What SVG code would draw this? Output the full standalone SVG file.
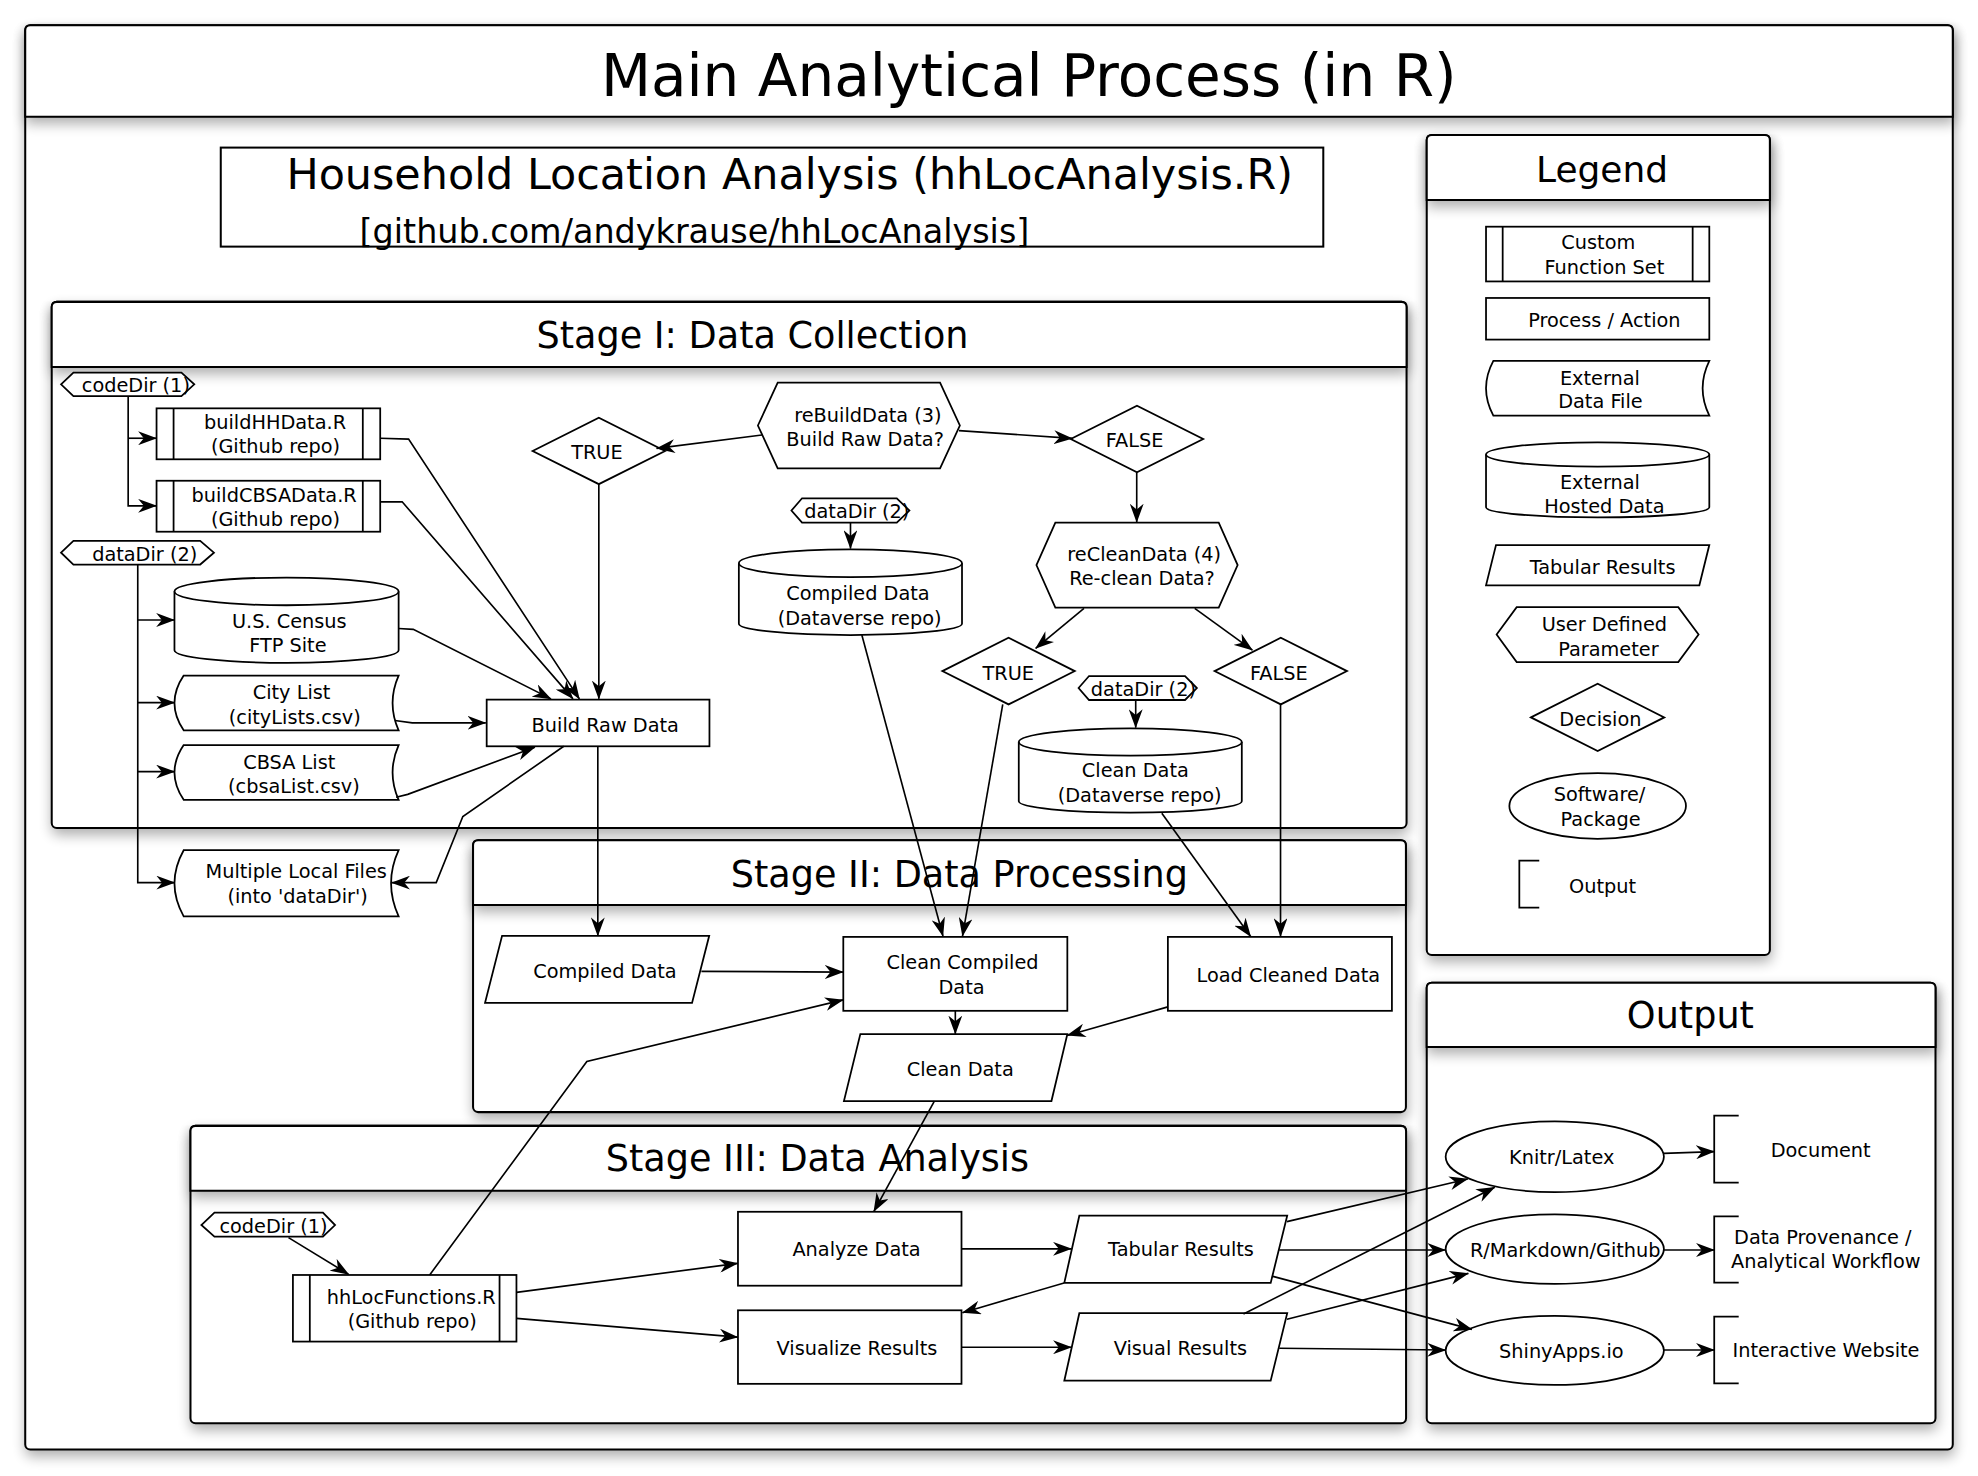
<svg xmlns="http://www.w3.org/2000/svg" width="1978" height="1476" viewBox="0 0 1978 1476">
<defs>
<style>
.s{fill:#fff;stroke:#000;stroke-width:1.4}
.p{fill:#fff;stroke:#000;stroke-width:1.6}
.n{fill:none;stroke:#000;stroke-width:1.4}
.t{font-family:"DejaVu Sans","Liberation Sans",sans-serif;font-size:15.3px;text-anchor:middle;fill:#000}
.h{font-size:29px}
.c{fill:none;stroke:#000;stroke-width:1.3}
.a{marker-end:url(#ah)}
</style>
<marker id="ah" viewBox="0 0 15 11" refX="14.5" refY="5.5" markerWidth="15" markerHeight="11" orient="auto" markerUnits="userSpaceOnUse"><path d="M0,0 L15,5.5 L0,11 L4.5,5.5 Z" fill="#000"/></marker>
<filter id="sh" x="-5%" y="-10%" width="112%" height="160%"><feGaussianBlur in="SourceAlpha" stdDeviation="5"/><feOffset dx="1" dy="5"/><feComponentTransfer><feFuncA type="linear" slope="0.32"/></feComponentTransfer><feMerge><feMergeNode/><feMergeNode in="SourceGraphic"/></feMerge></filter>
</defs>
<rect width="1978" height="1476" fill="#fff"/>
<g transform="scale(1.26148)">
<g id="main-frame">
<rect x="20" y="20" width="1528" height="1129" rx="4" class="p" filter="url(#sh)"/>
<path d="M20,92.5 V24 Q20,20 24,20 H1544 Q1548,20 1548,24 V92.5 Z" class="p" filter="url(#sh)"/>
<text x="815.5" y="75.8" class="t" style="font-size:46px">Main Analytical Process (in R)</text>
</g>
<g id="household">
<rect x="175" y="117" width="874" height="78.5" class="p"/>
<text x="626" y="150" class="t" style="font-size:34px">Household Location Analysis (hhLocAnalysis.R)</text>
<text x="550.5" y="192.3" class="t" style="font-size:26.5px">[github.com/andykrause/hhLocAnalysis]</text>
</g>
<g id="legend-panel">
<rect x="1131" y="107" width="272" height="650" rx="4" class="p" filter="url(#sh)"/>
<path d="M1131,158.5 V111 Q1131,107 1135,107 H1399 Q1403,107 1403,111 V158.5 Z" class="p" filter="url(#sh)"/>
<text x="1270" y="144" class="t" style="font-size:28.5px">Legend</text>
</g>
<g id="output-panel">
<rect x="1131" y="779" width="403.3" height="349.3" rx="4" class="p" filter="url(#sh)"/>
<path d="M1131,830 V783 Q1131,779 1135,779 H1530.3 Q1534.3,779 1534.3,783 V830 Z" class="p" filter="url(#sh)"/>
<text x="1340" y="815" class="t h">Output</text>
</g>
<g id="stage1-panel">
<rect x="41" y="239.3" width="1074" height="417.1" rx="4" class="p" filter="url(#sh)"/>
<path d="M41,291 V243.3 Q41,239.3 45,239.3 H1111 Q1115,239.3 1115,243.3 V291 Z" class="p" filter="url(#sh)"/>
<text x="596.5" y="276" class="t h">Stage I: Data Collection</text>
</g>
<g id="stage2-panel">
<rect x="375" y="666" width="739.5" height="215.6" rx="4" class="p" filter="url(#sh)"/>
<path d="M375,717.5 V670 Q375,666 379,666 H1110.5 Q1114.5,666 1114.5,670 V717.5 Z" class="p" filter="url(#sh)"/>
<text x="760.5" y="703.5" class="t h">Stage II: Data Processing</text>
</g>
<g id="stage3-panel">
<rect x="151" y="892.5" width="963.6" height="235.8" rx="4" class="p" filter="url(#sh)"/>
<path d="M151,944 V896.5 Q151,892.5 155,892.5 H1110.6 Q1114.6,892.5 1114.6,896.5 V944 Z" class="p" filter="url(#sh)"/>
<text x="648" y="928.3" class="t h">Stage III: Data Analysis</text>
</g>

<g id="legend-items">
<g id="lg-custom"><rect x="1178" y="179.7" width="177" height="43.4" class="s"/><path d="M1191.2,179.7 V223.1 M1341.8,179.7 V223.1" class="n"/><text x="1267" y="197.7" class="t">Custom</text><text x="1271.8" y="217" class="t">Function Set</text></g>
<g id="lg-process"><rect x="1178" y="236.2" width="177" height="33" class="s"/><text x="1271.8" y="259.2" class="t">Process / Action</text></g>
<g id="lg-extfile"><path d="M1183.8,286.1 H1355 Q1344.4,307.8 1355,329.5 H1183.8 Q1172.2,307.8 1183.8,286.1 Z" class="s"/><text x="1268.3" y="305.3" class="t">External</text><text x="1268.7" y="323.7" class="t">Data File</text></g>
<g id="lg-hosted"><path d="M1178,360.3 A88.5,9.6 0 0 1 1355,360.3 V402.2 A88.5,8 0 0 1 1178,402.2 Z" class="s"/><path d="M1178,360.3 A88.5,9.6 0 0 0 1355,360.3" class="n"/><text x="1268.3" y="388" class="t">External</text><text x="1271.8" y="406.4" class="t">Hosted Data</text></g>
<g id="lg-tabular"><polygon points="1185.9,432.1 1355,432.1 1347.1,464 1178,464" class="s"/><text x="1270.4" y="455.2" class="t">Tabular Results</text></g>
<g id="lg-param"><polygon points="1186.4,503 1202.3,481.3 1330.4,481.3 1346.5,503 1330.4,524.8 1202.3,524.8" class="s"/><text x="1271.8" y="500.5" class="t">User Defined</text><text x="1275" y="519.7" class="t">Parameter</text></g>
<g id="lg-decision"><polygon points="1213.6,568.7 1266.5,542 1319.3,568.7 1266.5,595.4" class="s"/><text x="1268.7" y="575.5" class="t">Decision</text></g>
<g id="lg-software"><ellipse cx="1266.5" cy="638.9" rx="70" ry="26" class="s"/><text x="1268" y="635" class="t">Software/</text><text x="1268.8" y="655" class="t">Package</text></g>
<g id="lg-output"><path d="M1220.2,682.3 H1204.4 V719.5 H1220.2" class="n"/><text x="1270.4" y="708" class="t">Output</text></g>
</g>

<g id="codeDir1"><polygon points="48.4,304.7 58.2,295.4 143.8,295.4 154,304.7 143.8,314 58.2,314" class="s"/><text x="107.7" y="310.4" class="t">codeDir (1)</text></g>
<g id="buildHHData"><rect x="124.1" y="323.7" width="177.3" height="40.4" class="s"/><path d="M137.6,323.7 V364.1 M287.6,323.7 V364.1" class="n"/><text x="218" y="340.4" class="t">buildHHData.R</text><text x="218.4" y="359.4" class="t">(Github repo)</text></g>
<g id="buildCBSAData"><rect x="124.1" y="381.1" width="177.3" height="40.4" class="s"/><path d="M137.6,381.1 V421.5 M287.6,381.1 V421.5" class="n"/><text x="217.3" y="398.1" class="t">buildCBSAData.R</text><text x="218.4" y="417.1" class="t">(Github repo)</text></g>
<g id="dataDir2a"><polygon points="48.4,438.1 58.2,428.8 158.7,428.8 169.6,438.1 158.7,447.5 58.2,447.5" class="s"/><text x="114.7" y="444.8" class="t">dataDir (2)</text></g>
<g id="census"><path d="M138.3,468.8 A88.85,11 0 0 1 316,468.8 V515.5 A88.85,10 0 0 1 138.3,515.5 Z" class="s"/><path d="M138.3,468.8 A88.85,11 0 0 0 316,468.8" class="n"/><text x="229.3" y="497.9" class="t">U.S. Census</text><text x="228.2" y="517.2" class="t">FTP Site</text></g>
<g id="citylist"><path d="M145.6,535.5 H316 Q306.4,557.2 316,578.9 H145.6 Q131,557.2 145.6,535.5 Z" class="s"/><text x="231.1" y="553.9" class="t">City List</text><text x="233.7" y="573.9" class="t">(cityLists.csv)</text></g>
<g id="cbsalist"><path d="M145.6,590.6 H316 Q306.4,612.3 316,634 H145.6 Q131,612.3 145.6,590.6 Z" class="s"/><text x="229.3" y="609.6" class="t">CBSA List</text><text x="233" y="629" class="t">(cbsaList.csv)</text></g>
<g id="localfiles"><path d="M145.6,674 H316 Q304,700.2 316,726.4 H145.6 Q131,700.2 145.6,674 Z" class="s"/><text x="234.8" y="695.7" class="t">Multiple Local Files</text><text x="235.9" y="715.7" class="t">(into 'dataDir')</text></g>
<g id="buildraw"><rect x="385.8" y="554.6" width="176.6" height="37" class="s"/><text x="479.8" y="579.9" class="t">Build Raw Data</text></g>
<g id="true1"><polygon points="422.2,357.5 474.7,331.2 527.2,357.5 474.7,383.8" class="s"/><text x="473.2" y="363.8" class="t">TRUE</text></g>
<g id="rebuild"><polygon points="600.8,337.3 616.5,303.3 745.2,303.3 760.9,337.3 745.2,371.3 616.5,371.3" class="s"/><text x="688" y="334.2" class="t">reBuildData (3)</text><text x="685.8" y="353.5" class="t">Build Raw Data?</text></g>
<g id="false1"><polygon points="848.8,348 901.3,321.7 953.8,348 901.3,374.3" class="s"/><text x="899.4" y="354.6" class="t">FALSE</text></g>
<g id="dataDir2b"><polygon points="627.4,404.7 635.8,395 710.9,395 720.9,404.7 710.9,414.3 635.8,414.3" class="s"/><text x="679.2" y="410.9" class="t">dataDir (2)</text></g>
<g id="compiledrepo"><path d="M585.7,446.5 A88.45,11 0 0 1 762.6,446.5 V494.4 A88.45,9 0 0 1 585.7,494.4 Z" class="s"/><path d="M585.7,446.5 A88.45,11 0 0 0 762.6,446.5" class="n"/><text x="680.1" y="475.6" class="t">Compiled Data</text><text x="681.4" y="495.5" class="t">(Dataverse repo)</text></g>
<g id="reclean"><polygon points="821.6,447.9 836.6,414.3 966.1,414.3 981.1,447.9 966.1,481.7 836.6,481.7" class="s"/><text x="907" y="444.5" class="t">reCleanData (4)</text><text x="905.3" y="463.7" class="t">Re-clean Data?</text></g>
<g id="true2"><polygon points="747,532 799.5,505.6 852,532 799.5,558.4" class="s"/><text x="799.3" y="539" class="t">TRUE</text></g>
<g id="false2"><polygon points="962.8,532 1015.3,505.6 1067.8,532 1015.3,558.4" class="s"/><text x="1013.8" y="539" class="t">FALSE</text></g>
<g id="dataDir2c"><polygon points="855,545.4 863.3,535.9 939.4,535.9 948.8,545.4 939.4,554.9 863.3,554.9" class="s"/><text x="906.4" y="551.7" class="t">dataDir (2)</text></g>
<g id="cleanrepo"><path d="M807.6,588.2 A88.4,10.8 0 0 1 984.4,588.2 V635.2 A88.4,9 0 0 1 807.6,635.2 Z" class="s"/><path d="M807.6,588.2 A88.4,10.8 0 0 0 984.4,588.2" class="n"/><text x="900" y="616.2" class="t">Clean Data</text><text x="903.4" y="635.5" class="t">(Dataverse repo)</text></g>

<g id="compileddata"><polygon points="398,741.8 562.2,741.8 548.6,795 384.5,795" class="s"/><text x="479.6" y="775.6" class="t">Compiled Data</text></g>
<g id="cleancompiled"><rect x="668.5" y="742.7" width="177.6" height="58.6" class="s"/><text x="763" y="768.4" class="t">Clean Compiled</text><text x="762.2" y="788.2" class="t">Data</text></g>
<g id="loadcleaned"><rect x="925.8" y="742.7" width="177.6" height="58.6" class="s"/><text x="1021.3" y="778.8" class="t">Load Cleaned Data</text></g>
<g id="cleandata"><polygon points="682,819.8 846.1,819.8 833.5,872.8 669,872.8" class="s"/><text x="761.2" y="853" class="t">Clean Data</text></g>

<g id="codeDir1b"><polygon points="159.6,971.1 170,961.3 256,961.3 265.6,971.1 256,980.3 170,980.3" class="s"/><text x="216.8" y="977.2" class="t">codeDir (1)</text></g>
<g id="hhlocfunctions"><rect x="232.2" y="1010.7" width="177.2" height="52.8" class="s"/><path d="M245.6,1010.7 V1063.5 M396,1010.7 V1063.5" class="n"/><text x="326" y="1034" class="t">hhLocFunctions.R</text><text x="326.8" y="1053" class="t">(Github repo)</text></g>
<g id="analyze"><rect x="585" y="960.6" width="177.2" height="58.6" class="s"/><text x="679" y="995.7" class="t">Analyze Data</text></g>
<g id="visualize"><rect x="585" y="1038.7" width="177.2" height="58.3" class="s"/><text x="679.3" y="1074" class="t">Visualize Results</text></g>
<g id="tabular"><polygon points="855.6,963.7 1020.4,963.7 1007.3,1017 843.7,1017" class="s"/><text x="936.2" y="995.7" class="t">Tabular Results</text></g>
<g id="visual"><polygon points="855.6,1041 1020.4,1041 1007.3,1094.5 843.7,1094.5" class="s"/><text x="935.7" y="1074" class="t">Visual Results</text></g>

<g id="knitr"><ellipse cx="1232.5" cy="917" rx="86.5" ry="28" class="s"/><text x="1238" y="923" class="t">Knitr/Latex</text></g>
<g id="rmarkdown"><ellipse cx="1232.5" cy="990.2" rx="86.5" ry="27.6" class="s"/><text x="1240.8" y="996.2" class="t">R/Markdown/Github</text></g>
<g id="shiny"><ellipse cx="1232.5" cy="1070.5" rx="86.5" ry="27.4" class="s"/><text x="1237.7" y="1076.2" class="t">ShinyApps.io</text></g>
<g id="out-document"><path d="M1378.3,884.4 H1358.9 V937.5 H1378.3" class="n"/><text x="1443.3" y="916.9" class="t">Document</text></g>
<g id="out-provenance"><path d="M1378.3,964.2 H1358.9 V1016.8 H1378.3" class="n"/><text x="1445" y="986.4" class="t">Data Provenance /</text><text x="1447.3" y="1005.4" class="t">Analytical Workflow</text></g>
<g id="out-website"><path d="M1378.3,1043.7 H1358.9 V1096.6 H1378.3" class="n"/><text x="1447.5" y="1075.4" class="t">Interactive Website</text></g>

<g id="connectors">
<path d="M101.6,314 V401 H124" class="c a"/>
<path d="M101.6,347.4 H124" class="c a"/>
<path d="M109.2,447.5 V699.7 H138.5" class="c a"/>
<path d="M109.2,491.5 H138.3" class="c a"/>
<path d="M109.2,557 H138.3" class="c a"/>
<path d="M109.2,611.7 H138.3" class="c a"/>
<path d="M301.4,347.4 L323.9,348.1 L459.3,554" class="c a"/>
<path d="M301.4,397.8 L318.8,397.8 L454.2,554" class="c a"/>
<path d="M315.9,498.2 L327.6,498.9 L436.8,554" class="c a"/>
<path d="M313,571.2 L326.8,573 L385.1,573" class="c a"/>
<path d="M314,632 L323.2,629.7 L424,592.3" class="c a"/>
<path d="M446.9,591.6 L366.9,647.3 L345.8,699.7 L310.5,699.7" class="c a"/>
<path d="M474.7,383.8 V554" class="c a"/>
<path d="M473.9,591.6 V741.8" class="c a"/>
<path d="M604,344.8 L520.5,355.4" class="c a"/>
<path d="M760.2,341.4 L850,347.5" class="c a"/>
<path d="M901.1,374.3 V413.8" class="c a"/>
<path d="M674.2,414.3 V434.8" class="c a"/>
<path d="M859.3,482.3 L821,513.9" class="c a"/>
<path d="M947.1,482.3 L992.8,515.3" class="c a"/>
<path d="M900.3,554.9 V576.8" class="c a"/>
<path d="M683.2,503.4 L747.5,742" class="c a"/>
<path d="M794.9,558.3 L763,742" class="c a"/>
<path d="M1015.1,558.4 V742.3" class="c a"/>
<path d="M921,644.7 L991.4,742.4" class="c a"/>
<path d="M556,770 L668.4,770.6" class="c a"/>
<path d="M757.3,801.3 V819.6" class="c a"/>
<path d="M925.8,798.2 L846,820.8" class="c a"/>
<path d="M340.6,1010.7 L465.2,841.5 L668.4,792.6" class="c a"/>
<path d="M740.7,872.8 L692.7,960.4" class="c a"/>
<path d="M228.7,981.1 L276.4,1010.2" class="c a"/>
<path d="M409.4,1024.5 L584.8,1001.5" class="c a"/>
<path d="M409.4,1045.1 L584.8,1060" class="c a"/>
<path d="M762.2,990 L849.3,990" class="c a"/>
<path d="M762.2,1068 L849.3,1068" class="c a"/>
<path d="M843.5,1017 L763,1040.6" class="c a"/>
<path d="M1020.2,968.4 L1163.5,934.6" class="c a"/>
<path d="M985.7,1041.6 L1184.9,941.2" class="c a"/>
<path d="M1014.1,990.9 L1146,990.9" class="c a"/>
<path d="M1020.2,1045.8 L1164,1009.4" class="c a"/>
<path d="M1008.3,1011.6 L1166.8,1053.8" class="c a"/>
<path d="M1014.1,1068.8 L1146,1070.2" class="c a"/>
<path d="M1319,914.3 L1359,912.9" class="c a"/>
<path d="M1319,990.9 L1359,990.9" class="c a"/>
<path d="M1319,1070.2 L1359,1070.2" class="c a"/>
</g>
</g>
</svg>
